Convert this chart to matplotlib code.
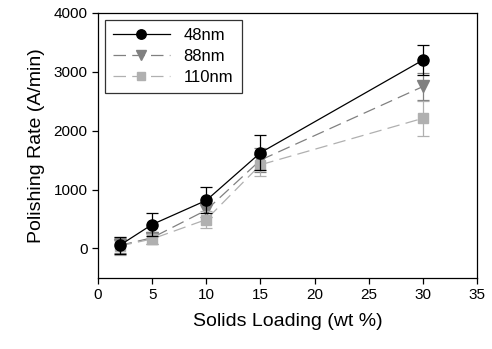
import matplotlib
matplotlib.use("Agg")
import matplotlib.pyplot as plt

plt.rcParams['font.family'] = ['Liberation Sans', 'DejaVu Sans']

# solids loading (wt %)
loading = [2, 5, 10, 15, 30]

# polishing rate (A/min) and error bars
rate_48 = [50, 405, 815, 1625, 3200]
err_48 = [150, 200, 220, 300, 260]
rate_88 = [50, 180, 650, 1500, 2750]
err_88 = [130, 100, 120, 200, 230]
rate_110 = [40, 160, 490, 1420, 2210]
err_110 = [150, 90, 150, 190, 300]

series = [
    (rate_48, err_48, '48nm', 'black', 'o', 8, None, 3),
    (rate_88, err_88, '88nm', '#808080', 'v', 8, (10, 5), 2),
    (rate_110, err_110, '110nm', '#b0b0b0', 's', 7, (10, 5), 2),
]

fig = plt.figure(figsize=(4.92, 3.49), dpi=100)
ax = fig.add_axes([0.199, 0.204, 0.771, 0.759])

for y, e, name, col, mk, ms, dash, z in series:
    ax.errorbar(loading, y, yerr=e, fmt='none', ecolor=col, elinewidth=0.9,
                capsize=4, capthick=0.9, zorder=z)
    line, = ax.plot(loading, y, color=col, marker=mk, markersize=ms,
                    linewidth=0.9, label=name, zorder=z)
    if dash:
        line.set_dashes(dash)

ax.set_xlim(0, 35)
ax.set_ylim(-500, 4000)
ax.set_xticks(range(0, 36, 5))
ax.set_yticks(range(0, 4001, 1000))
ax.tick_params(direction='out', labelsize=11, length=4, width=0.9)
for s in ax.spines.values():
    s.set_linewidth(0.9)

ax.set_xlabel('Solids Loading (wt %)', fontsize=14, labelpad=8)
ax.set_ylabel('Polishing Rate (A/min)', fontsize=14, labelpad=6)

leg = ax.legend(loc='upper left', fontsize=12, frameon=True, fancybox=False,
                edgecolor='black', handlelength=3.4, borderaxespad=0.4,
                labelspacing=0.35, handletextpad=0.85, markerscale=0.85,
                borderpad=0.5)
leg.get_frame().set_linewidth(0.9)

fig.savefig('out.png', dpi=100)
